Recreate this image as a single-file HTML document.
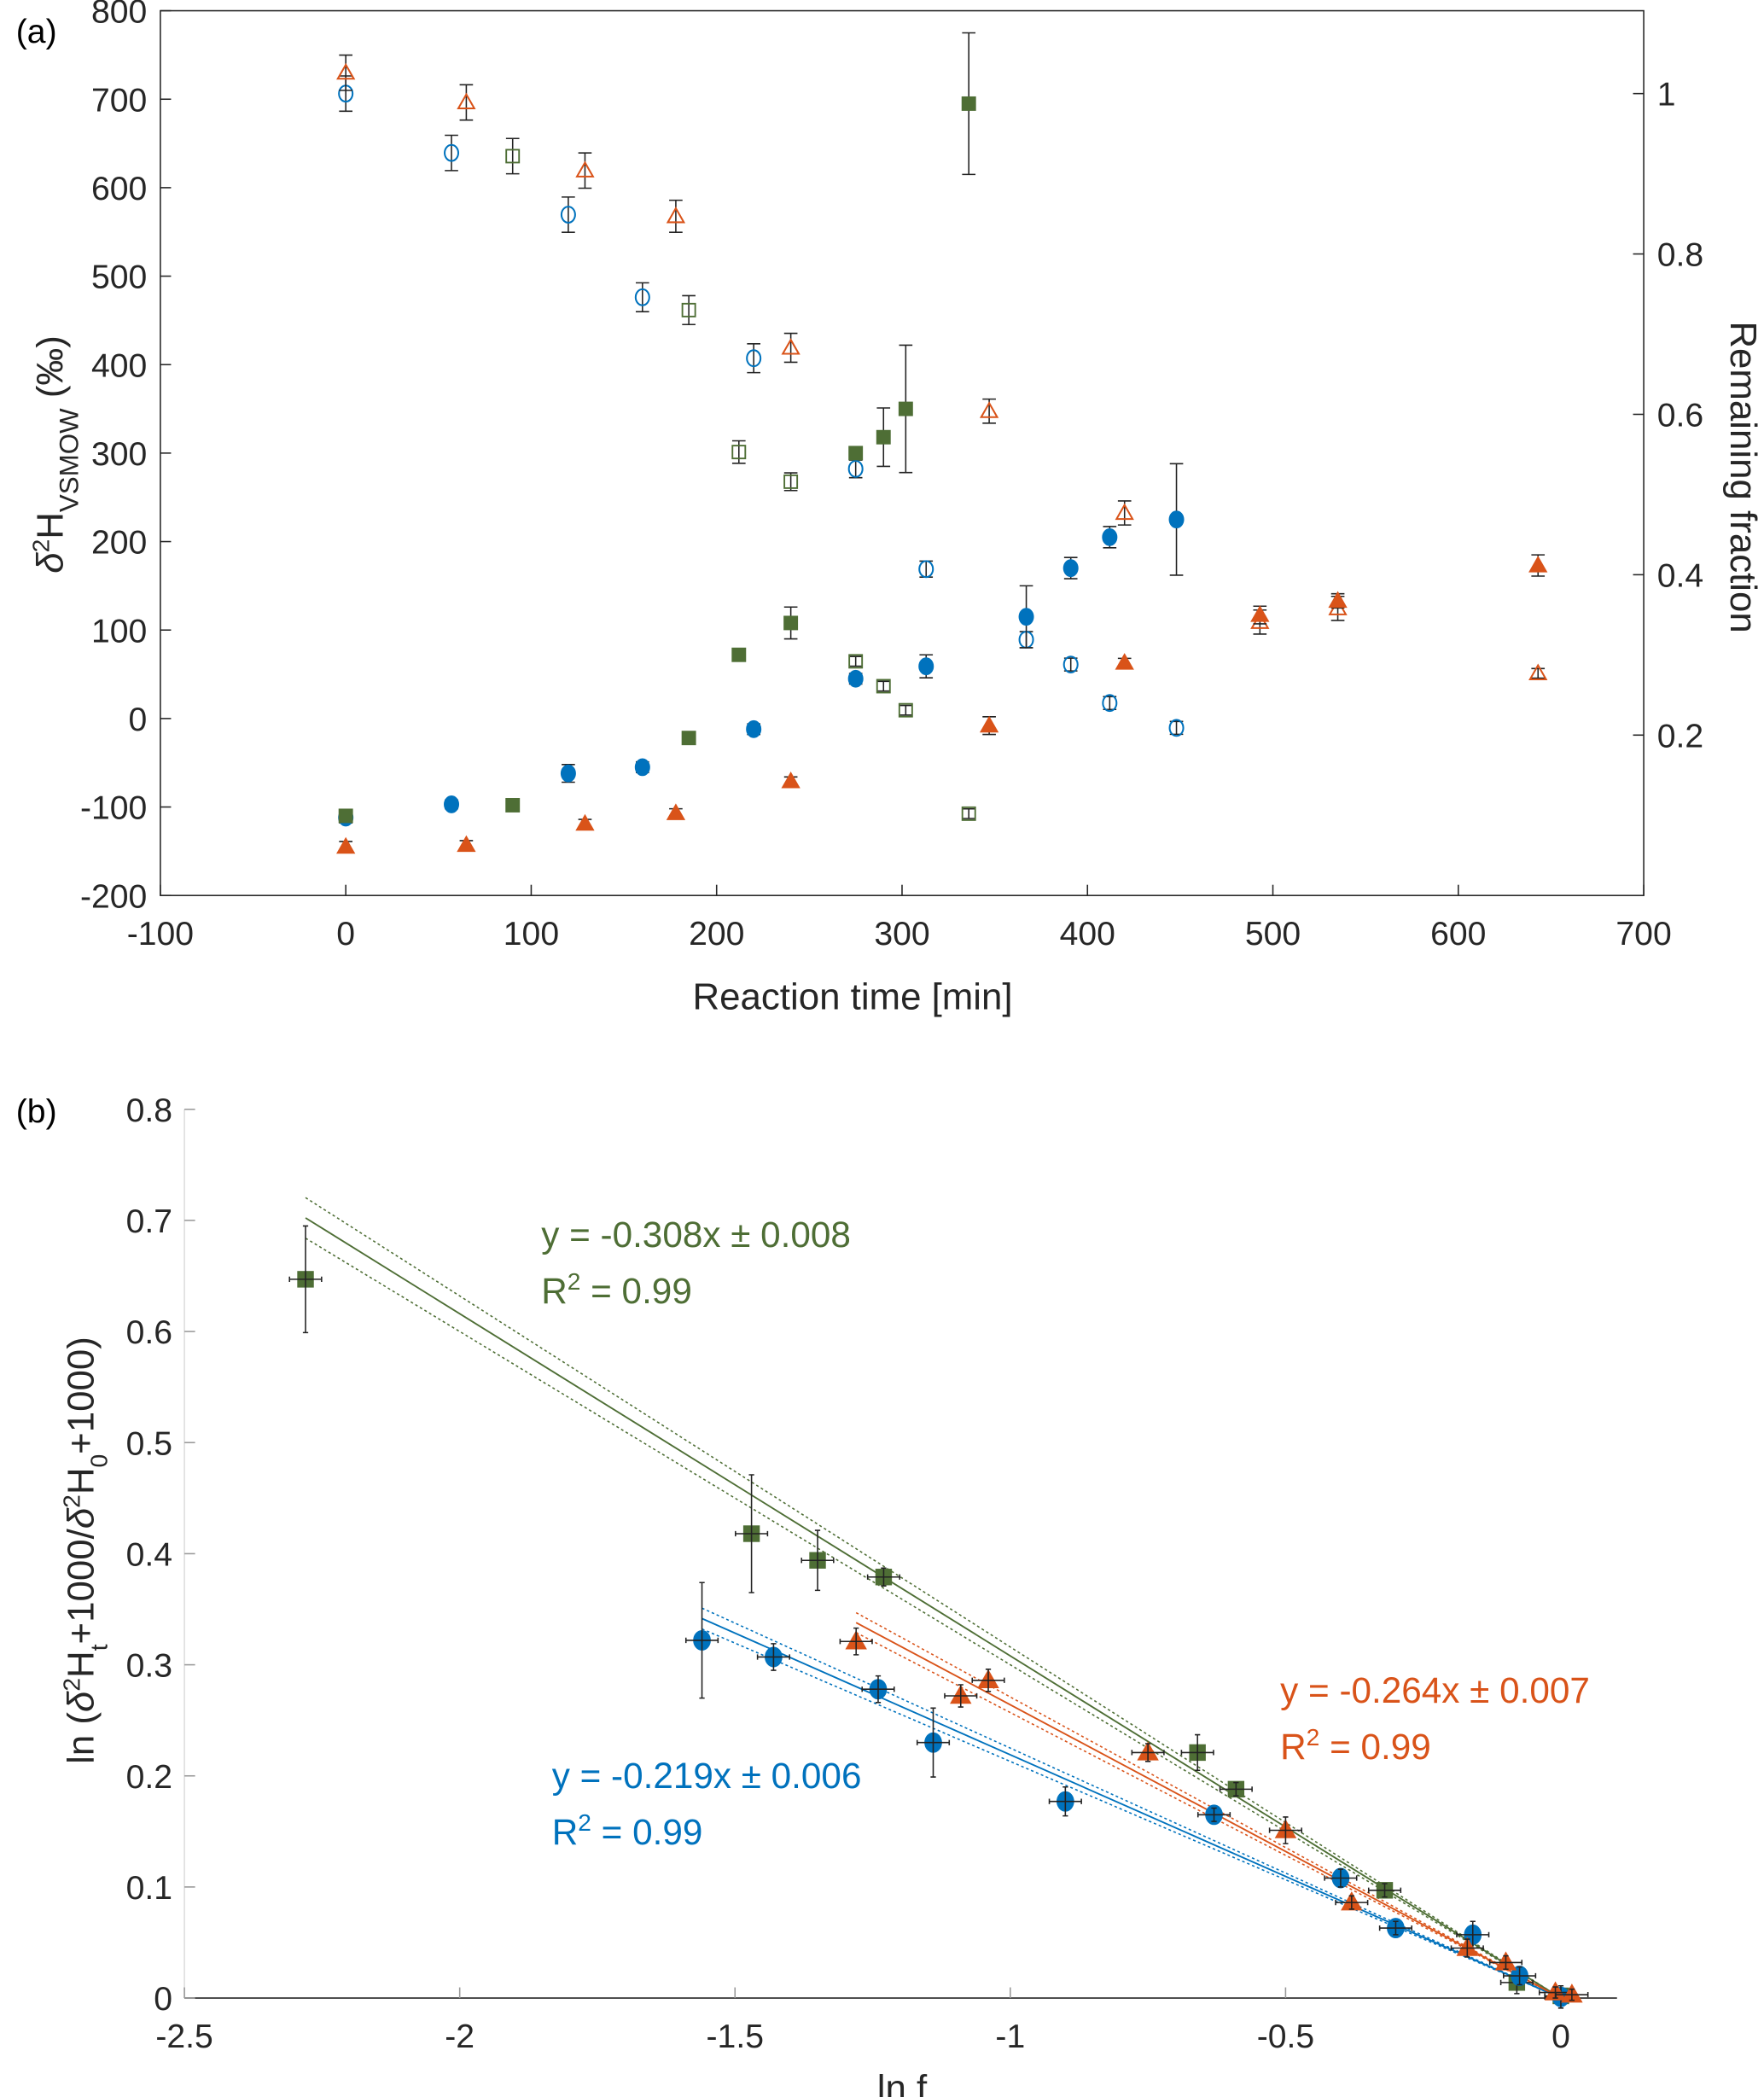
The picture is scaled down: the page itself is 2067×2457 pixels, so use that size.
<!DOCTYPE html>
<html><head><meta charset="utf-8"><style>
html,body{margin:0;padding:0;background:#fff;}
svg{display:block;font-family:"Liberation Sans",sans-serif;}
</style></head><body>
<svg id="fig" width="2067" height="2457" viewBox="0 0 1320 1569" xmlns="http://www.w3.org/2000/svg">
<rect width="1320" height="1569" fill="#fff"/>
<text x="12" y="32" font-size="25">(a)</text>
<text x="12" y="840" font-size="25">(b)</text>
<g id="pa"></g>
<g id="pb"></g>
</svg>
<script>
// ---------- Panel A data ----------
const aTicksX = [-100,0,100,200,300,400,500,600,700];
const aTicksY = [-200,-100,0,100,200,300,400,500,600,700,800];
const aTicksR = [0.2,0.4,0.6,0.8,1];
const blueFillT = [0,57,120,160,220,275,313,367,391,412,448];
const blueFillV = [-112,-97,-62,-55,-12,45,59,115,170,205,225];
const blueFillE = [6,5,10,6,6,6,13,35,12,12,63];
const greenFillT = [0,90,185,212,240,275,290,302,336];
const greenFillV = [-110,-98,-22,72,108,300,318,350,695];
const greenFillE = [5,5,4,4,18,6,33,72,80];
const orangeFillT = [0,65,129,178,240,347,420,493,535,643];
const orangeFillV = [-145,-143,-119,-107,-71,-8,63,117,133,173];
const orangeFillE = [6,5,5,5,5,10,5,10,8,12];
const blueOpenT = [0,57,120,160,220,275,313,367,391,412,448];
const blueOpenF = [1.0,0.926,0.849,0.746,0.670,0.532,0.407,0.319,0.288,0.240,0.209];
const blueOpenE = [0.022,0.022,0.022,0.018,0.018,0.011,0.01,0.01,0.008,0.008,0.008];
const greenOpenT = [90,185,212,240,275,290,302,336];
const greenOpenF = [0.922,0.730,0.553,0.516,0.292,0.261,0.231,0.102];
const greenOpenE = [0.022,0.018,0.014,0.011,0.006,0.006,0.006,0.006];
const orangeOpenT = [0,65,129,178,240,347,420,493,535,643];
const orangeOpenF = [1.026,0.989,0.904,0.847,0.683,0.604,0.477,0.341,0.358,0.277];
const orangeOpenE = [0.022,0.022,0.022,0.02,0.018,0.015,0.015,0.015,0.015,0.006];
// ---------- Panel B data ----------
const bTicksX = [-2.5,-2,-1.5,-1,-0.5,0];
const bTicksY = [0,0.1,0.2,0.3,0.4,0.5,0.6,0.7,0.8];
const gX = [-2.28,-1.47,-1.35,-1.23,-0.66,-0.59,-0.32,-0.08,0];
const gY = [0.647,0.418,0.394,0.379,0.221,0.188,0.097,0.014,0.002];
const gE = [0.048,0.053,0.027,0.008,0.016,0.006,0.006,0.01,0.005];
const bX = [-1.56,-1.43,-1.24,-1.14,-0.9,-0.63,-0.4,-0.3,-0.16,-0.075,0];
const bY = [0.322,0.307,0.278,0.230,0.177,0.165,0.108,0.063,0.057,0.020,0.001];
const bE = [0.052,0.012,0.012,0.031,0.013,0.006,0.008,0.006,0.012,0.008,0.01];
const oX = [-1.28,-1.09,-1.04,-0.75,-0.5,-0.38,-0.17,-0.1,-0.01,0.02];
const oY = [0.321,0.272,0.286,0.221,0.151,0.086,0.045,0.032,0.005,0.003];
const oE = [0.012,0.01,0.01,0.008,0.012,0.006,0.008,0.006,0.005,0.005];
const fitSlopes = [-0.308,-0.219,-0.264];
const fitErr = [0.008,0.006,0.007];
const fitStart = [-2.28,-1.56,-1.28];

const BLUE='#0072BD', ORANGE='#D95319', GREEN='#4E6E35';
const NS='http://www.w3.org/2000/svg';
function mk(parent, tag, attrs, name){
  const e=document.createElementNS(NS,tag);
  for(const k in attrs) e.setAttribute(k,attrs[k]);
  
  
  parent.appendChild(e); return e;
}
function marker(g, shape, cx, cy, col, filled, r, name){
  const fill = filled?col:'none';
  let e;
  if(shape==='c') e=mk(g,'ellipse',{cx:cx,cy:cy,rx:r*0.85,ry:r,fill:fill,stroke:col,'stroke-width':1.3},name);
  else if(shape==='s') e=mk(g,'rect',{x:cx-r*0.8,y:cy-r*0.8,width:r*1.6,height:r*1.6,fill:fill,stroke:col,'stroke-width':1.2},name);
  else e=mk(g,'polygon',{points:`${cx},${cy-r} ${cx-r},${cy+r*0.75} ${cx+r},${cy+r*0.75}`,fill:fill,stroke:col,'stroke-width':1.3},name);
  return e;
}
function ebar(g, x, y1, y2, cap, name){
  mk(g,'path',{d:`M${x},${y1}V${y2}M${x-cap},${y1}H${x+cap}M${x-cap},${y2}H${x+cap}`,stroke:'#222','stroke-width':1,fill:'none'},name);
}

// ---------- Panel A ----------
(function(){
  const g=document.getElementById('pa');
  const L=120,R=1230,T=8,B=670;
  const sx=v=>L+(v+100)/800*(R-L);
  const sy=v=>B-(v+200)/1000*(B-T);
  const sr=f=>70+(1-f)*600;
  mk(g,'rect',{x:L,y:T,width:R-L,height:B-T,fill:'none',stroke:'#262626','stroke-width':1},'plot-frame-a');
  aTicksX.forEach(v=>{
    mk(g,'line',{x1:sx(v),x2:sx(v),y1:B,y2:B-8,stroke:'#262626'},'x-tick');
    const t=mk(g,'text',{x:sx(v),y:707,'font-size':25,'text-anchor':'middle',fill:'#262626'},'x-tick-label'); t.textContent=v;
  });
  aTicksY.forEach(v=>{
    mk(g,'line',{x1:L,x2:L+8,y1:sy(v),y2:sy(v),stroke:'#262626'},'y-tick');
    const t=mk(g,'text',{x:110,y:sy(v)+9,'font-size':25,'text-anchor':'end',fill:'#262626'},'y-tick-label'); t.textContent=v;
  });
  aTicksR.forEach(v=>{
    mk(g,'line',{x1:R,x2:R-8,y1:sr(v),y2:sr(v),stroke:'#262626'},'right-tick');
    const t=mk(g,'text',{x:1240,y:sr(v)+9,'font-size':25,fill:'#262626'},'right-tick-label'); t.textContent=v;
  });
  const xt=mk(g,'text',{x:638,y:755,'font-size':28,'text-anchor':'middle',fill:'#262626'},'x-axis-title'); xt.textContent='Reaction time [min]';
  const yt=mk(g,'text',{transform:'translate(47,340) rotate(-90)','font-size':28,'text-anchor':'middle',fill:'#262626'},'y-axis-title');
  yt.innerHTML='<tspan font-style="italic">δ</tspan><tspan baseline-shift="super" font-size="18">2</tspan>H<tspan baseline-shift="sub" font-size="20">VSMOW</tspan> (‰)';
  const rt=mk(g,'text',{transform:'translate(1295,357) rotate(90)','font-size':28,'text-anchor':'middle',fill:'#262626'},'right-axis-title'); rt.textContent='Remaining fraction';
  function ser(T_,V_,E_,shape,col,filled,right,name){
    const gg=mk(g,'g',{},name);
    T_.forEach((t,i)=>{
      const x=sx(t), y=right?sr(V_[i]):sy(V_[i]);
      const e1=right?sr(V_[i]+E_[i]):sy(V_[i]+E_[i]), e2=right?sr(V_[i]-E_[i]):sy(V_[i]-E_[i]);
      ebar(gg,x,e1,e2,5,name+'-error');
      marker(gg,shape,x,y,col,filled,6,name+'-point');
    });
  }
  ser(blueOpenT,blueOpenF,blueOpenE,'c',BLUE,false,true,'blue-open-series');
  ser(greenOpenT,greenOpenF,greenOpenE,'s',GREEN,false,true,'green-open-series');
  ser(orangeOpenT,orangeOpenF,orangeOpenE,'t',ORANGE,false,true,'orange-open-series');
  ser(blueFillT,blueFillV,blueFillE,'c',BLUE,true,false,'blue-filled-series');
  ser(greenFillT,greenFillV,greenFillE,'s',GREEN,true,false,'green-filled-series');
  ser(orangeFillT,orangeFillV,orangeFillE,'t',ORANGE,true,false,'orange-filled-series');
})();

// ---------- Panel B ----------
(function(){
  const g=document.getElementById('pb');
  const L=138,R=1210,T=830,B=1495;
  const sx=v=>L+(v+2.5)*412;
  const sy=v=>B-v*831.25;
  mk(g,'line',{x1:L,x2:L,y1:T,y2:B,stroke:'#ddd'},'y-axis-line-b');
  mk(g,'line',{x1:L,x2:R,y1:B,y2:B,stroke:'#262626'},'x-axis-line-b');
  bTicksX.forEach(v=>{
    mk(g,'line',{x1:sx(v),x2:sx(v),y1:B,y2:B-8,stroke:'#999'},'x-tick');
    const t=mk(g,'text',{x:sx(v),y:1532,'font-size':25,'text-anchor':'middle',fill:'#262626'},'x-tick-label'); t.textContent=v;
  });
  bTicksY.forEach(v=>{
    mk(g,'line',{x1:L,x2:L+8,y1:sy(v),y2:sy(v),stroke:'#999'},'y-tick');
    const t=mk(g,'text',{x:129,y:sy(v)+9,'font-size':25,'text-anchor':'end',fill:'#262626'},'y-tick-label'); t.textContent=v;
  });
  const xt=mk(g,'text',{x:675,y:1572,'font-size':28,'text-anchor':'middle',fill:'#262626'},'x-axis-title-b'); xt.textContent='ln f';
  const yt=mk(g,'text',{transform:'translate(70,1160) rotate(-90)','font-size':28,'text-anchor':'middle',fill:'#262626'},'y-axis-title-b');
  yt.innerHTML='ln (<tspan font-style="italic">δ</tspan><tspan baseline-shift="super" font-size="18">2</tspan>H<tspan baseline-shift="sub" font-size="18">t</tspan>+1000/<tspan font-style="italic">δ</tspan><tspan baseline-shift="super" font-size="18">2</tspan>H<tspan baseline-shift="sub" font-size="18">0</tspan>+1000)';
  const cols=[GREEN,BLUE,ORANGE], names=['green','blue','orange'];
  fitSlopes.forEach((s,i)=>{
    const x0=fitStart[i];
    mk(g,'line',{x1:sx(x0),y1:sy(s*x0),x2:sx(0),y2:sy(0),stroke:cols[i],'stroke-width':1.2},names[i]+'-fit-line');
    [s-fitErr[i],s+fitErr[i]].forEach(ss=>{
      mk(g,'line',{x1:sx(x0),y1:sy(ss*x0),x2:sx(0),y2:sy(0),stroke:cols[i],'stroke-width':1,'stroke-dasharray':'2,2'},names[i]+'-fit-bound');
    });
  });
  function ser(X,Y,E,shape,col,name){
    const gg=mk(g,'g',{},name);
    X.forEach((x,i)=>{
      const px=sx(x), py=sy(Y[i]);
      marker(gg,shape,px,py,col,true,7,name+'-point');
      ebar(gg,px,sy(Y[i]+E[i]),sy(Y[i]-E[i]),2,name+'-yerror');
      mk(gg,'path',{d:`M${px-12},${py}H${px+12}M${px-12},${py-2}V${py+2}M${px+12},${py-2}V${py+2}`,stroke:'#222','stroke-width':1},name+'-xerror');
    });
  }
  ser(gX,gY,gE,'s',GREEN,'green-series');
  ser(bX,bY,bE,'c',BLUE,'blue-series');
  ser(oX,oY,oE,'t',ORANGE,'orange-series');
  function lab(x,y,col,eq,name){
    const t=mk(g,'text',{x:x,y:y,'font-size':27,fill:col},name+'-equation'); t.textContent=eq;
    const r=mk(g,'text',{x:x,y:y+42,'font-size':27,fill:col},name+'-r2');
    r.innerHTML='R<tspan baseline-shift="super" font-size="18">2</tspan> = 0.99';
  }
  lab(405,933,GREEN,'y = -0.308x ± 0.008','green');
  lab(958,1274,ORANGE,'y = -0.264x ± 0.007','orange');
  lab(413,1338,BLUE,'y = -0.219x ± 0.006','blue');
})();
</script>
</body></html>
